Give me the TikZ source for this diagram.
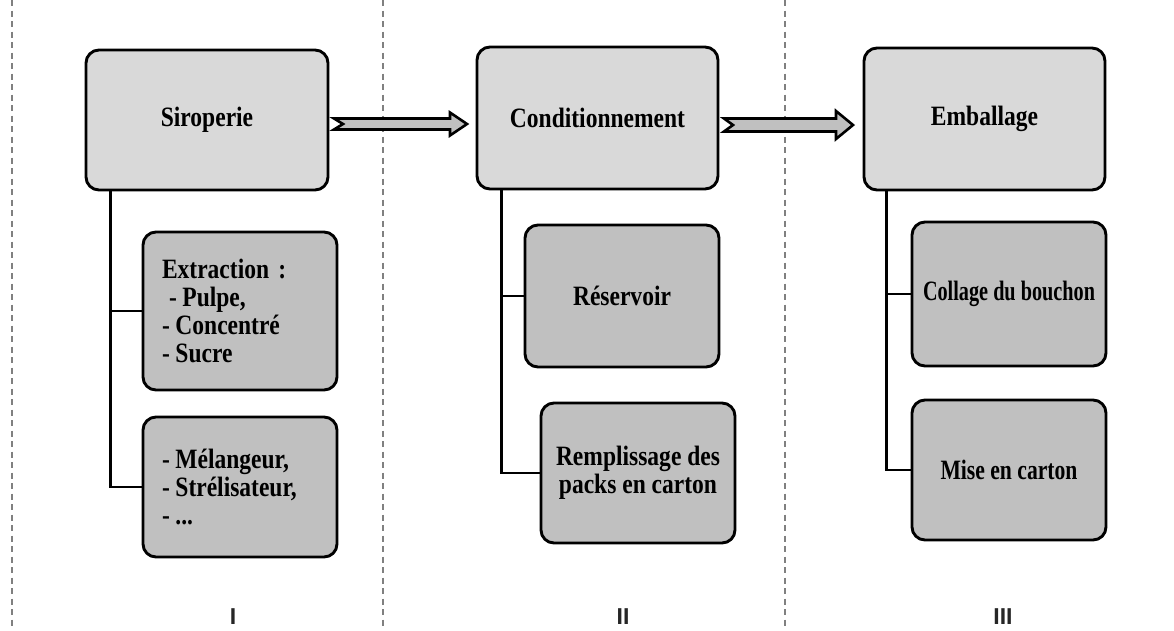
\documentclass[tikz,border=0pt]{standalone}
\usepackage{fontspec}
\usepackage{graphicx}
\setmainfont{Liberation Serif}[FakeStretch=0.84]
\newfontfamily\numfont{Liberation Sans}
\usetikzlibrary{calc}

\definecolor{mainfill}{HTML}{D9D9D9}
\definecolor{subfill}{HTML}{C0C0C0}
\definecolor{sepgray}{HTML}{808080}

\tikzset{
  basebox/.style={draw=black, line width=2.9pt, rounded corners=13pt, inner sep=0pt,
    font=\fontsize{28}{28}\selectfont\bfseries, text=black},
  mainbox/.style={basebox, fill=mainfill, minimum width=242pt, minimum height=140pt},
  subbox/.style={basebox, fill=subfill, align=center, minimum width=194pt},
  listbox/.style={subbox, align=left, text width=156pt, inner xsep=19pt},
  link/.style={draw=black, line width=2.9pt},
  sepline/.style={draw=sepgray, line width=1.6pt, dash pattern=on 6pt off 4.5pt},
  arrowbox/.style={draw=black, fill=subfill, line width=2.6pt, line join=miter},
  numeral/.style={font=\numfont\bfseries\fontsize{23}{23}\selectfont, text=black!85, inner sep=0pt},
}

% list dash with a narrow gap after it
\newcommand\itemdash{-\hspace{0.2em}}

% block arrow with notched tail: #1 tail point, #2 tip, #3 shaft half-height,
% #4 head half-height, #5 head length
\newcommand\blockarrow[5]{%
  \path[arrowbox] let \p1=(#1), \p2=(#2) in
    (\x1,\y1+#3) -- (\x2-#5,\y1+#3) -- (\x2-#5,\y1+#4) -- (\x2,\y1)
    -- (\x2-#5,\y1-#4) -- (\x2-#5,\y1-#3) -- (\x1,\y1-#3)
    -- (\x1+9pt,\y1) -- cycle;}

\begin{document}
\begin{tikzpicture}[x=1pt, y=-1pt]
  \useasboundingbox (0,0) rectangle (1174,630);

  % column separators
  \coordinate (d0t) at (12,0);    \coordinate (d0b) at (12,630);
  \coordinate (d1t) at (383,0);   \coordinate (d1b) at (383,630);
  \coordinate (d2t) at (785,0);   \coordinate (d2b) at (785,630);
  \draw[sepline] (d0t) -- (d0b);
  \draw[sepline] (d1t) -- (d1b);
  \draw[sepline] (d2t) -- (d2b);

  % main stages
  \node[mainbox] (m1) at (207,120) {Siroperie};
  \node[mainbox, minimum width=241pt, minimum height=142pt] (m2) at (597.5,118) {Conditionnement};
  \node[mainbox, minimum width=241pt, minimum height=142pt] (m3) at (984.5,119) {Emballage};

  % sub-steps
  \node[listbox, minimum height=158pt] (s1a) at (240,311)
    {Extraction :\\\hspace*{0.25em}\itemdash Pulpe,\\\itemdash Concentré\\\itemdash Sucre};
  \node[listbox, minimum height=140pt] (s1b) at (240,487)
    {\itemdash Mélangeur,\\\itemdash Strélisateur,\\\itemdash ...\\[-4pt]};
  \node[subbox, minimum height=142pt] (s2a) at (622,296) {Réservoir};
  \node[subbox, minimum height=140pt] (s2b) at (638,473) {Remplissage des\\packs en carton};
  \node[subbox, minimum height=144pt] (s3a) at (1009,294) {\scalebox{0.86}[1]{Collage du bouchon}};
  \node[subbox, minimum height=140pt] (s3b) at (1009,470) {\scalebox{0.92}[1]{Mise en carton}};

  % tree links
  \coordinate (t1) at ([xshift=26pt]m1.south west);
  \coordinate (t2) at ([xshift=26pt]m2.south west);
  \coordinate (t3) at ([xshift=24pt]m3.south west);
  \draw[link] (t1) |- (s1b.west);
  \draw[link] (t1 |- s1a.west) -- (s1a.west);
  \draw[link] (t2) |- (s2b.west);
  \draw[link] (t2 |- s2a.west) -- (s2a.west);
  \draw[link] (t3) |- (s3b.west);
  \draw[link] (t3 |- s3a.west) -- (s3a.west);

  % flow arrows between stages
  \coordinate (a1s) at (334,124);  \coordinate (a1e) at (467,124);
  \coordinate (a2s) at (724,125);  \coordinate (a2e) at (853,125);
  \blockarrow{a1s}{a1e}{5.5pt}{11.5pt}{17pt}
  \blockarrow{a2s}{a2e}{6.5pt}{14pt}{17pt}

  % stage numbers
  \node[numeral] (n1) at (233,617) {I};
  \node[numeral] (n2) at (623,617) {II};
  \node[numeral] (n3) at (1003,617) {III};
\end{tikzpicture}
\end{document}
